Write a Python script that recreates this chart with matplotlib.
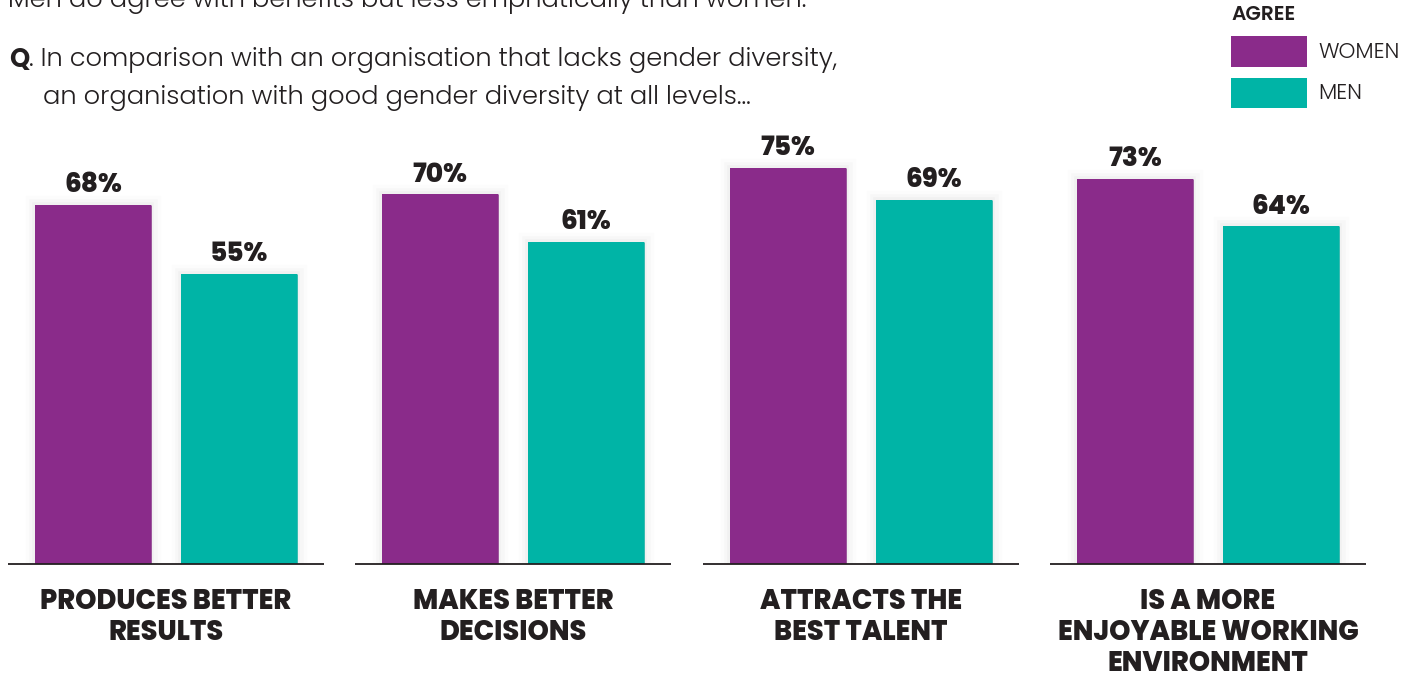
import matplotlib
matplotlib.use("Agg")
import matplotlib.pyplot as plt
import matplotlib.patheffects as pe
import numpy as np

categories = ["PRODUCES BETTER\nRESULTS", "MAKES BETTER\nDECISIONS",
              "ATTRACTS THE\nBEST TALENT", "IS A MORE\nENJOYABLE WORKING\nENVIRONMENT"]
women = [68, 70, 75, 73]
men = [55, 61, 69, 64]
series_names = ["WOMEN", "MEN"]

PURPLE = "#8A2B8A"
TEAL = "#00B4A6"
INK = "#231F20"
FONT = ["Poppins", "Lato", "DejaVu Sans"]

W, H = 1413, 673
fig = plt.figure(figsize=(W / 100, H / 100), dpi=100)

def fx(x):
    return x / W

def fy(y):
    return 1 - y / H

base_px = 564
top_px = 36
group_px = 347.3
center0 = 166
ax = fig.add_axes([0, fy(base_px), 1, (base_px - top_px) / H])
ax.set_xlim(-center0 / group_px, (W - center0) / group_px)
ax.set_ylim(0, 100)
ax.axis("off")

x = np.arange(len(categories))
off = 73 / group_px
bw = 116 / group_px
halfbase = 158 / group_px

shadow = [pe.Stroke(linewidth=14, foreground=(0, 0, 0, 0.012)),
          pe.Stroke(linewidth=9, foreground=(0, 0, 0, 0.018)),
          pe.Stroke(linewidth=4, foreground=(0, 0, 0, 0.025)),
          pe.Normal()]

b1 = ax.bar(x - off, women, width=bw, color=PURPLE, linewidth=0, zorder=3)
b2 = ax.bar(x + off, men, width=bw, color=TEAL, linewidth=0, zorder=3)
for b in list(b1) + list(b2):
    b.set_path_effects(shadow)

ax.hlines(np.zeros(len(x)), x - halfbase, x + halfbase, color=INK, linewidth=1.3,
          zorder=4, clip_on=False)

for bars, vals in ((b1, women), (b2, men)):
    for b, v in zip(bars, vals):
        ax.annotate(f"{v}%", (b.get_x() + b.get_width() / 2, v),
                    xytext=(0, 4), textcoords="offset points",
                    ha="center", va="bottom", fontsize=19,
                    fontweight=800, family=FONT, color=INK)

for xi, cat in zip(x, categories):
    ax.annotate(cat, (xi, 0), xytext=(0, -17), textcoords="offset points",
                ha="center", va="top", fontsize=19.5, fontweight=800,
                family=FONT, color=INK, linespacing=1.1)

# header texts
BODY = 18.5
fig.text(fx(8), fy(7), "Men do agree with benefits but less emphatically than women.",
         ha="left", va="baseline", fontsize=BODY, family=FONT, fontweight=300, color=INK)
q = fig.text(fx(9), fy(60), "Q", ha="left", va="center", fontsize=BODY,
             family=FONT, fontweight=700, color=INK)
fig.canvas.draw()
qext = q.get_window_extent()
fig.text(qext.x1 / W, fy(60), ". In comparison with an organisation that lacks gender diversity,",
         ha="left", va="center", fontsize=BODY, family=FONT, fontweight=300, color=INK)
fig.text(fx(43), fy(98), "an organisation with good gender diversity at all levels...",
         ha="left", va="center", fontsize=BODY, family=FONT, fontweight=300, color=INK)

# legend
fig.text(fx(1231), fy(15), "AGREE", ha="left", va="center", fontsize=14.5,
         family=FONT, fontweight=600, color=INK)
for name, col, ytop, ybot in ((series_names[0], PURPLE, 36, 67),
                              (series_names[1], TEAL, 78, 108)):
    fig.patches.append(plt.Rectangle((fx(1231), fy(ybot)), fx(1307) - fx(1231),
                                     fy(ytop) - fy(ybot), transform=fig.transFigure,
                                     color=col, linewidth=0))
    fig.text(fx(1318), fy((ytop + ybot) / 2 + 1), name, ha="left", va="center",
             fontsize=15.5, family=FONT, fontweight=300, color=INK)

fig.savefig("out.png", dpi=100)
